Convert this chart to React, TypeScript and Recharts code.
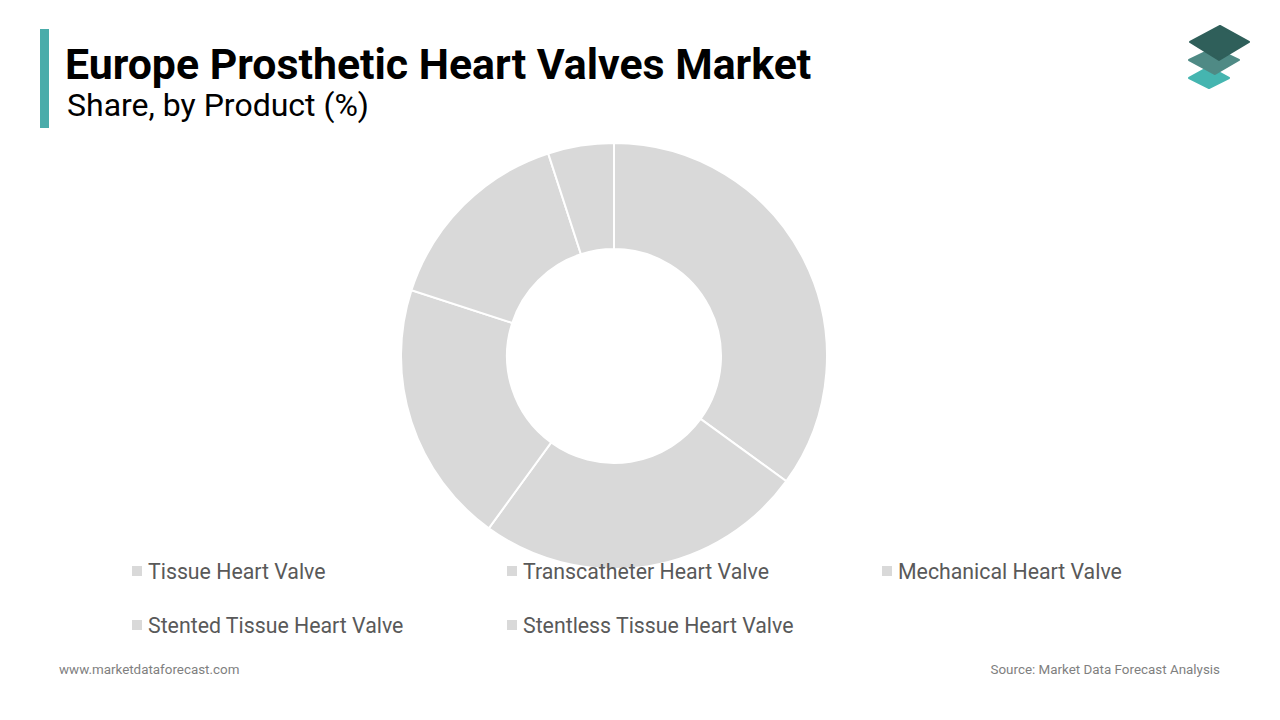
import { Cell, Legend, Pie, PieChart } from "recharts"

const products = [
    "Tissue Heart Valve",
    "Transcatheter Heart Valve",
    "Mechanical Heart Valve",
    "Stented Tissue Heart Valve",
    "Stentless Tissue Heart Valve",
]
const shares = [35, 25, 20, 15, 5]

const data = products.map((name, i) => ({ name, value: shares[i] }))

const SLICE = "#d9d9d9"

function LegendGrid({ payload }: any) {
    // keep the legend in data order, not alphabetical
    const items = [...(payload || [])].sort((a: any, b: any) => products.indexOf(a.value) - products.indexOf(b.value))
    return (
        <div style={{ display: "grid", gridTemplateColumns: "375px 375px 375px" }}>
            {items.map((entry: any) => (
                <div key={entry.value} style={{ height: 54, display: "flex", alignItems: "center" }}>
                    <span style={{ width: 10, height: 10, background: SLICE, marginRight: 6, flexShrink: 0 }} />
                    <span style={{ fontSize: 21.3, color: "#595959" }}>{entry.value}</span>
                </div>
            ))}
        </div>
    )
}

function Logo() {
    return (
        <svg width={70} height={72} style={{ position: "absolute", left: 1184, top: 22 }}>
            <path d="M5 56 L25 45 L45 56 L25 66 Z" fill="#45b5b0" stroke="#45b5b0" strokeLinejoin="round" strokeWidth={2} />
            <path d="M5 38 L30 26 L55 38 L31 52 Z" fill="#4f8a85" stroke="#4f8a85" strokeLinejoin="round" strokeWidth={2} />
            <path d="M6 20 L36 4 L65 20 L35 38 Z" fill="#2f5f5a" stroke="#2f5f5a" strokeLinejoin="round" strokeWidth={2} />
        </svg>
    )
}

export default function App() {
    return (
        <div style={{ position: "fixed", left: 0, top: 0, width: 1280, height: 720, background: "#fff", fontFamily: "Roboto, sans-serif", overflow: "hidden" }}>
            <div style={{ position: "absolute", left: 40, top: 29, width: 9, height: 99, background: "#4aacaa" }} />
            <div style={{ position: "absolute", left: 65, top: 40, fontSize: 42.8, fontWeight: 700, color: "#000", lineHeight: "48px", whiteSpace: "nowrap" }}>
                Europe Prosthetic Heart Valves Market
            </div>
            <div style={{ position: "absolute", left: 67, top: 87, fontSize: 32, color: "#000", lineHeight: "36px", whiteSpace: "nowrap" }}>
                Share, by Product (%)
            </div>
            <Logo />
            <div style={{ position: "absolute", left: 0, top: 0 }}>
                <PieChart width={1280} height={720} margin={{ top: 0, right: 0, bottom: 0, left: 0 }}>
                    <Pie
                        data={data}
                        dataKey="value"
                        nameKey="name"
                        cx={614}
                        cy={356}
                        innerRadius={107}
                        outerRadius={213}
                        startAngle={90}
                        endAngle={-270}
                        stroke="#fff"
                        strokeWidth={2}
                        isAnimationActive={false}
                    >
                        {data.map((d) => (
                            <Cell key={d.name} fill={SLICE} />
                        ))}
                    </Pie>
                    <Legend
                        content={<LegendGrid />}
                        wrapperStyle={{ position: "absolute", left: 132, top: 544, width: 1130, bottom: "auto" }}
                    />
                </PieChart>
            </div>
            <div style={{ position: "absolute", left: 59, top: 662, fontSize: 13.4, color: "#7f7f7f" }}>www.marketdataforecast.com</div>
            <div style={{ position: "absolute", right: 60, top: 662, fontSize: 13.4, color: "#7f7f7f" }}>Source: Market Data Forecast Analysis</div>
        </div>
    )
}
